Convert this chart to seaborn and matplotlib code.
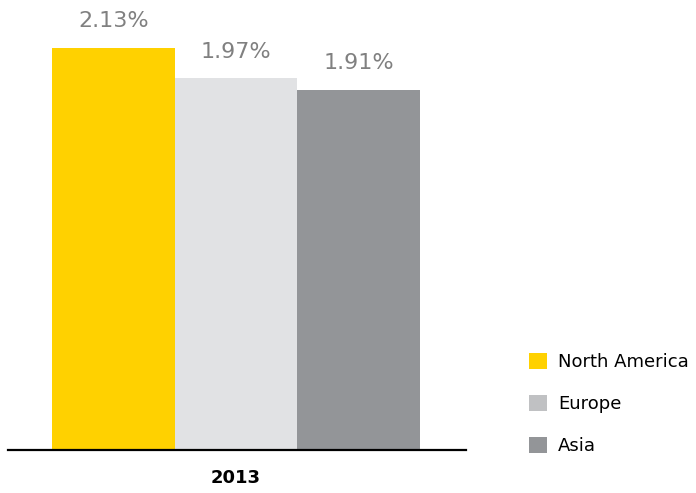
import pandas as pd
import matplotlib
matplotlib.use("Agg")
import matplotlib.pyplot as plt
import seaborn as sns
from matplotlib.patches import Patch

years = ["2013"]
regions = ["North America", "Europe", "Asia"]
values = [2.13, 1.97, 1.91]
bar_colors = ["#FFD100", "#E1E2E4", "#939598"]
legend_colors = ["#FFD100", "#C0C1C3", "#939598"]

df = pd.DataFrame({"year": years * len(regions), "region": regions, "value": values})

sns.set_style("white")
plt.rcParams["font.family"] = ["DejaVu Sans"]

fig = plt.figure(figsize=(6.96, 4.93), dpi=100)
ax = fig.add_axes([8 / 696, 43 / 493, 458 / 696, 450 / 493])

sns.barplot(data=df, x="year", y="value", hue="region", hue_order=regions,
            palette=bar_colors, saturation=1, width=0.8, legend=False,
            linewidth=0, ax=ax)

for cont, v in zip(ax.containers, values):
    ax.bar_label(cont, labels=[f"{v:.2f}%"], padding=12, fontsize=16, color="#808080")

ax.set_xlim(-0.4957, 0.5)
ax.set_ylim(0, 2.385)
ax.set_xlabel("")
ax.set_ylabel("")
ax.set_yticks([])
ax.tick_params(axis="x", length=0, pad=14, labelsize=13, labelcolor="black")
for lab in ax.get_xticklabels():
    lab.set_fontweight("bold")
for s in ["top", "left", "right"]:
    ax.spines[s].set_visible(False)
ax.spines["bottom"].set_linewidth(1.6)
ax.spines["bottom"].set_color("black")

handles = [Patch(facecolor=c, edgecolor="none") for c in legend_colors]
fig.legend(handles, regions, loc="upper left", bbox_to_anchor=(522 / 696, 1 - 346 / 493),
           frameon=False, fontsize=13, labelcolor="black", handlelength=1.0,
           handleheight=1.0, handletextpad=0.6, labelspacing=1.3, borderaxespad=0)

fig.savefig("out.png", dpi=100)
